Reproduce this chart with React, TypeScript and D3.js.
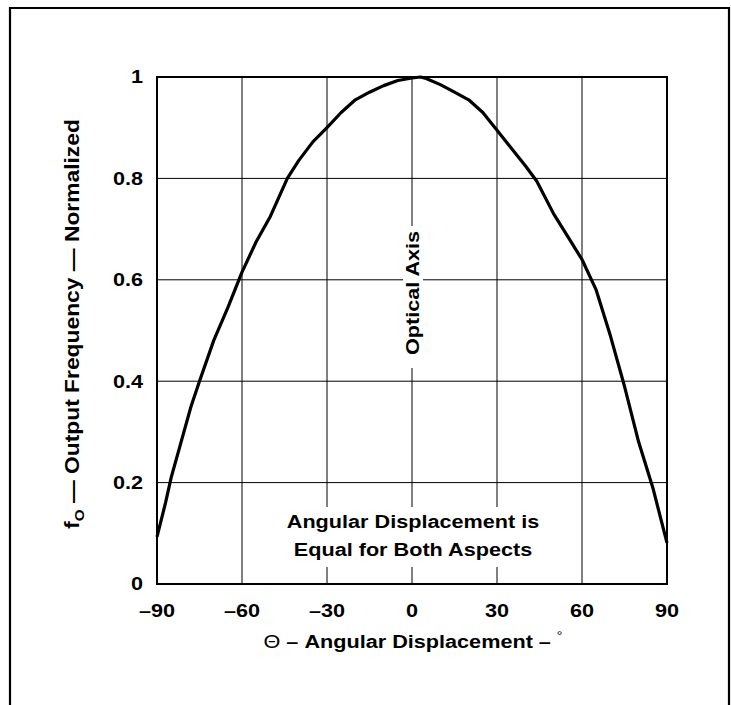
import React from "react";
import * as d3 from "d3";

const angles = [-90, -87, -85, -82, -78, -75, -70, -65, -60, -55, -50, -44, -40, -35, -30, -25, -20, -15, -10, -5, 0, 3, 5, 10, 15, 20, 25, 30, 35, 40, 44, 50, 55, 60, 65, 70, 75, 80, 85, 90];
const freq = [0.093, 0.16, 0.21, 0.27, 0.35, 0.4, 0.48, 0.545, 0.615, 0.675, 0.725, 0.8, 0.835, 0.872, 0.9, 0.93, 0.955, 0.97, 0.983, 0.993, 0.998, 1.0, 0.997, 0.985, 0.97, 0.955, 0.93, 0.895, 0.86, 0.825, 0.795, 0.73, 0.685, 0.64, 0.58, 0.49, 0.39, 0.28, 0.19, 0.081];
const xTicks = [-90, -60, -30, 0, 30, 60, 90];
const yTicks = [0, 0.2, 0.4, 0.6, 0.8, 1];
const xTickLabels = ["–90", "–60", "–30", "0", "30", "60", "90"];
const yTickLabels = ["0", "0.2", "0.4", "0.6", "0.8", "1"];

const FONT = "'Liberation Sans', Arial, Helvetica, sans-serif";
const SX = 1.17;
const FS = 18.5;

function T({ tx, ty, rot = 0, anchor = "middle", baseline, size = FS, children }: any) {
  return (
    <g transform={`translate(${tx},${ty}) rotate(${rot}) scale(${SX},1)`}>
      <text x={0} y={0} textAnchor={anchor} dominantBaseline={baseline} fontSize={size} fontWeight="bold">
        {children}
      </text>
    </g>
  );
}

export default function App() {
  const x = d3.scaleLinear().domain([-90, 90]).range([157, 667]);
  const y = d3.scaleLinear().domain([0, 1]).range([584, 77]);
  const line = d3
    .line<number>()
    .x((_, i) => x(angles[i]))
    .y((d) => y(d));
  const pathD = line(freq) || "";

  const vGrid: { v: number; segs: [number, number][] }[] = [
    { v: -60, segs: [[0, 1]] },
    { v: -30, segs: [[y.invert(507), 1], [0, y.invert(567)]] },
    { v: 0, segs: [[y.invert(226), 1], [y.invert(368), y.invert(507)], [0, y.invert(567)]] },
    { v: 30, segs: [[y.invert(507), 1], [0, y.invert(567)]] },
    { v: 60, segs: [[0, 1]] },
  ];

  return (
    <svg
      width={731}
      height={705}
      style={{ position: "absolute", left: 0, top: 0, background: "#fff" }}
      fontFamily={FONT}
    >
      <rect x={0} y={0} width={731} height={705} fill="#fff" />
      <path d="M10,712 L10,8 L729,8 L729,712" fill="none" stroke="#000" strokeWidth={2.2} />

      {yTicks.slice(1, -1).map((t) => {
        if (t === 0.6) {
          return (
            <g key={t}>
              <line x1={x(-90)} x2={403} y1={y(t)} y2={y(t)} stroke="#000" strokeWidth={1} />
              <line x1={423} x2={x(90)} y1={y(t)} y2={y(t)} stroke="#000" strokeWidth={1} />
            </g>
          );
        }
        return <line key={t} x1={x(-90)} x2={x(90)} y1={y(t)} y2={y(t)} stroke="#000" strokeWidth={1} />;
      })}
      {vGrid.map((g) =>
        g.segs.map((s, i) => (
          <line key={g.v + "_" + i} x1={x(g.v)} x2={x(g.v)} y1={y(s[0])} y2={y(s[1])} stroke="#000" strokeWidth={1} />
        ))
      )}

      <rect x={x(-90)} y={y(1)} width={x(90) - x(-90)} height={y(0) - y(1)} fill="none" stroke="#000" strokeWidth={2} />

      <path d={pathD} fill="none" stroke="#000" strokeWidth={3.2} strokeLinejoin="round" />

      {yTicks.map((t, i) => (
        <T key={t} tx={143} ty={y(t)} anchor="end" baseline="central">
          {yTickLabels[i]}
        </T>
      ))}
      {xTicks.map((t, i) => (
        <T key={t} tx={x(t)} ty={617}>
          {xTickLabels[i]}
        </T>
      ))}

      <T tx={413} ty={648} size={18.5}>
        <tspan fontWeight="normal">Θ</tspan>
        {" – Angular Displacement – "}
        <tspan fontWeight="normal" fontSize={12} dy={-8}>°</tspan>
      </T>

      <T tx={79} ty={324} rot={-90} size={19.5}>
        f<tspan fontSize={13} dy={5}>O</tspan>
        <tspan dy={-5}>{" — Output Frequency — Normalized"}</tspan>
      </T>

      <T tx={413} ty={293} rot={-90} baseline="central">
        Optical Axis
      </T>
      <T tx={413} ty={528}>
        Angular Displacement is
      </T>
      <T tx={413} ty={556}>
        Equal for Both Aspects
      </T>
    </svg>
  );
}
